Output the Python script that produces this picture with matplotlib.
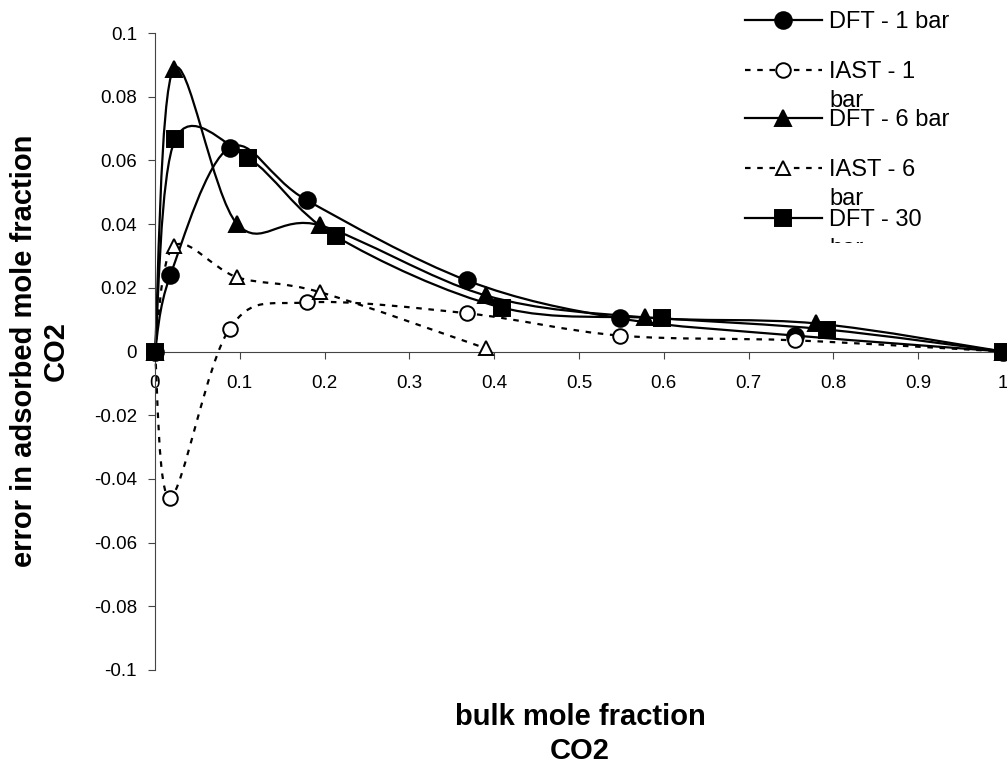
import numpy as np
import matplotlib
matplotlib.use('Agg')
import matplotlib.pyplot as plt
from matplotlib.path import Path
from matplotlib.patches import PathPatch

plt.rcParams['font.family'] = ['Liberation Sans', 'DejaVu Sans']

# data
dft1_x = [0.0, 0.018, 0.088, 0.179, 0.368, 0.548, 0.755, 1.0]
dft1_y = [0.0, 0.0239, 0.0640, 0.0475, 0.0223, 0.0104, 0.0050, 0.0]

iast1_x = [0.0, 0.018, 0.088, 0.179, 0.368, 0.548, 0.755, 1.0]
iast1_y = [0.0, -0.0459, 0.0072, 0.0154, 0.0120, 0.0050, 0.0035, 0.0]

dft6_x = [0.0, 0.022, 0.097, 0.195, 0.390, 0.578, 0.780, 1.0]
dft6_y = [0.0, 0.0887, 0.0400, 0.0396, 0.0176, 0.0107, 0.0088, 0.0]

iast6_x = [0.0, 0.022, 0.097, 0.195, 0.390]
iast6_y = [0.0, 0.0330, 0.0233, 0.0186, 0.0010]

dft30_x = [0.0, 0.024, 0.110, 0.213, 0.409, 0.598, 0.792, 1.0]
dft30_y = [0.0, 0.0667, 0.0607, 0.0362, 0.0138, 0.0104, 0.0069, 0.0]

x_ticks = [0, 0.1, 0.2, 0.3, 0.4, 0.5, 0.6, 0.7, 0.8, 0.9, 1]
y_ticks = [-0.1, -0.08, -0.06, -0.04, -0.02, 0, 0.02, 0.04, 0.06, 0.08, 0.1]

series = [
    ('DFT - 1 bar', dft1_x, dft1_y, 'o', 'black', '-'),
    ('IAST - 1\nbar', iast1_x, iast1_y, 'o', 'white', (0, (2.5, 3))),
    ('DFT - 6 bar', dft6_x, dft6_y, '^', 'black', '-'),
    ('IAST - 6\nbar', iast6_x, iast6_y, '^', 'white', (0, (2.5, 3))),
    ('DFT - 30\nbar', dft30_x, dft30_y, 's', 'black', '-'),
]


def smooth_path(x, y):
    # excel-like smoothed line (catmull-rom bezier through the points)
    pts = np.column_stack([x, y])
    n = len(pts)
    verts = [pts[0]]
    codes = [Path.MOVETO]
    for i in range(n - 1):
        p0 = pts[i - 1] if i > 0 else pts[i]
        p1 = pts[i]
        p2 = pts[i + 1]
        p3 = pts[i + 2] if i + 2 < n else pts[i + 1]
        verts += [p1 + (p2 - p0) / 6, p2 - (p3 - p1) / 6, p2]
        codes += [Path.CURVE4] * 3
    return Path(verts, codes)


fig = plt.figure(figsize=(10.07, 7.66), dpi=100)
ax = fig.add_axes([155 / 1007, 1 - 670 / 766, 848 / 1007, 637 / 766])

msize = {'o': 12, '^': 12, 's': 11.5}
for label, xs, ys, m, fc, ls in series:
    patch = PathPatch(smooth_path(xs, ys), fill=False, edgecolor='black',
                      lw=1.6, linestyle=ls, clip_on=False, zorder=2)
    ax.add_patch(patch)
    ms = msize[m] if fc == 'black' else msize[m] - 1.5
    ax.plot(xs, ys, linestyle='none', marker=m, ms=ms, mfc=fc, mec='black',
            mew=1.4, clip_on=False, zorder=3)

ax.set_xlim(0, 1)
ax.set_ylim(-0.1, 0.1)
ax.spines['top'].set_visible(False)
ax.spines['right'].set_visible(False)
ax.spines['bottom'].set_position(('data', 0))
ax.spines['left'].set_color('#444444')
ax.spines['bottom'].set_color('#444444')
ax.set_xticks(x_ticks)
ax.set_xticklabels(['{:g}'.format(v) for v in x_ticks])
ax.set_yticks(y_ticks)
ax.set_yticklabels(['{:g}'.format(v) for v in y_ticks])
ax.tick_params(axis='x', direction='out', length=5, pad=12, labelsize=13.5,
               color='#444444')
ax.tick_params(axis='y', direction='out', length=5, pad=8, labelsize=13.5,
               color='#444444')
ax.patch.set_visible(False)

fig.text(580 / 1007, 1 - 734 / 766, 'bulk mole fraction\nCO2', ha='center',
         va='center', fontsize=21, fontweight='bold', linespacing=1.3)
fig.text(40 / 1007, 1 - 351 / 766, 'error in adsorbed mole fraction\nCO2',
         ha='center', va='center', rotation=90, fontsize=21,
         fontweight='bold', linespacing=1.2)

# legend, drawn by hand so it can be cut off like the original
lg = fig.add_axes([740 / 1007, 1 - 243 / 766, 267 / 1007, 243 / 766])
lg.set_xlim(0, 267)
lg.set_ylim(243, 0)
lg.axis('off')
rows = [20, 70, 118, 168, 218]
for (label, xs, ys, m, fc, ls), ry in zip(series, rows):
    lg.plot([5, 82], [ry, ry], color='black', lw=1.6, linestyle=ls)
    ms = msize[m] if fc == 'black' else msize[m] - 1.5
    lg.plot([43], [ry], marker=m, ms=ms, mfc=fc, mec='black', mew=1.4)
    lines = label.split('\n')
    lg.text(89, ry + 8, lines[0], fontsize=17, va='baseline', ha='left',
            clip_on=True)
    if len(lines) > 1:
        lg.text(89, ry + 37, lines[1], fontsize=17, va='baseline', ha='left',
                clip_on=True)

plt.savefig('out.png', dpi=100)
